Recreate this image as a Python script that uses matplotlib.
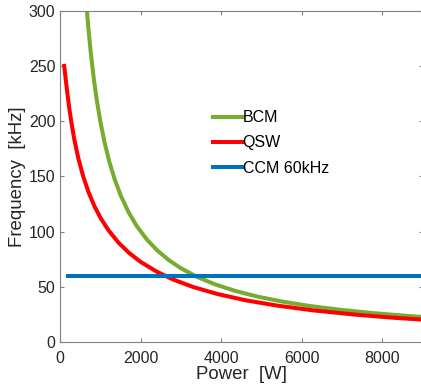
import numpy as np
import matplotlib
matplotlib.use("Agg")
import matplotlib.pyplot as plt

# values (smoothed by eye)
bcm_power = [650, 700, 760, 830, 910, 1000, 1100, 1220, 1350, 1500, 1700, 1900,
             2150, 2400, 2700, 3000, 3400, 3850, 4350, 4900, 5500, 6200, 7000,
             7800, 8500, 9000]
bcm_freq = [305.6, 283.9, 261.5, 239.6, 218.6, 199, 181, 163.3, 147.7, 133, 117.5, 105.2,
            93.1, 83.5, 74.3, 67, 59.2, 52.4, 46.5, 41.4, 37, 32.9, 29.3,
            26.4, 24.3, 23]

qsw_power = [100, 130, 170, 220, 280, 350, 450, 570, 700, 850, 1000, 1200, 1450,
             1700, 2000, 2400, 2800, 3300, 3900, 4600, 5400, 6300, 7300, 8200, 9000]
qsw_freq = [250, 240.2, 227.5, 213.1, 198.3, 183.6, 166.5, 150.2, 136.1, 123.2, 112.6,
            101.3, 90.1, 81.2, 72.7, 63.9, 56.9, 50.1, 43.8, 38.1, 33.2, 28.9, 25.2,
            22.5, 20.6]

ccm_power = [200, 9000]
ccm_freq = [60, 60]

plt.rcParams["font.family"] = ["Liberation Sans", "DejaVu Sans"]

fig = plt.figure(figsize=(4.21, 3.9), dpi=100)
ax = fig.add_axes([0.143, 0.122, 0.861, 0.851])

lw = 2.9
ax.plot(bcm_power, bcm_freq, color="#77AC30", lw=lw, label="BCM",
        solid_joinstyle="round")
ax.plot(qsw_power, qsw_freq, color="#FF0000", lw=lw, label="QSW",
        solid_joinstyle="round")
ax.plot(ccm_power, ccm_freq, color="#0072BD", lw=lw, label="CCM 60kHz")

ax.set_xlim(0, 9000)
ax.set_ylim(0, 300)
ax.set_xticks([0, 2000, 4000, 6000, 8000])
ax.set_yticks([0, 50, 100, 150, 200, 250, 300])

for s in ax.spines.values():
    s.set_color("#808080")
    s.set_linewidth(0.8)
ax.tick_params(direction="in", length=3, width=0.8, color="#808080",
               labelcolor="#262626", labelsize=11.5, top=True, right=True)
ax.tick_params(axis="x", pad=6.5)
ax.tick_params(axis="y", pad=3.5)

ax.set_xlabel("Power  [W]", fontsize=13.4, color="#262626", labelpad=0)
ax.set_ylabel("Frequency  [kHz]", fontsize=13.4, color="#262626", labelpad=2)

ax.legend(loc="upper left", bbox_to_anchor=(0.421, 0.70), frameon=False,
          fontsize=11.5, handlelength=1.87, handletextpad=0.0,
          labelspacing=0.64, borderaxespad=0, borderpad=0)

fig.savefig("out.png", dpi=100)
